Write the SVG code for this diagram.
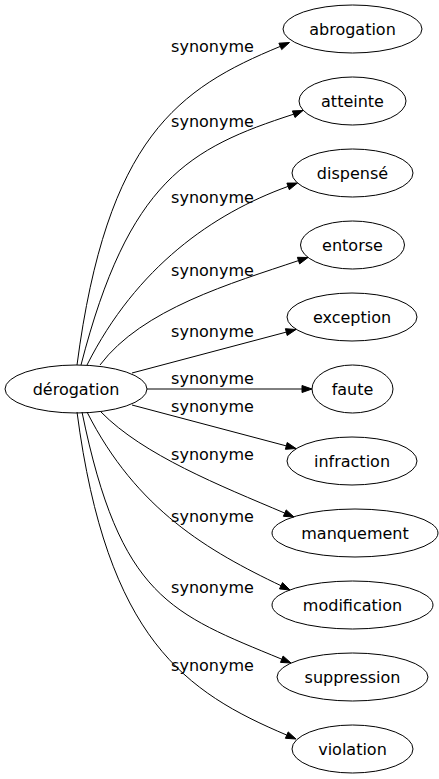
<svg xmlns="http://www.w3.org/2000/svg" width="439" height="779" viewBox="0 0 439 779">
<style>
.n ellipse{fill:none;stroke:#000;stroke-width:1}
text{font-family:"DejaVu Sans",sans-serif;font-size:16px;fill:#000}
.n text{text-anchor:middle}
.e path{fill:none;stroke:#000;stroke-width:1}
.e polygon{fill:#000;stroke:#000;stroke-width:1}
.e text{text-anchor:middle}
</style>
<rect width="439" height="779" fill="#fff"/>
<g id="edges" class="e">
<path d="M77,365 C106.9,137.3 178.3,88.4 280.3,46.4"/><polygon points="289.5,42.5 281.7,49.6 278.9,43.2"/><text x="212.5" y="52">synonyme</text>
<path d="M81,365 C128.5,180.7 189,148 293.7,114.2"/><polygon points="303,110.5 295,117.5 292.4,110.9"/><text x="212.5" y="127">synonyme</text>
<path d="M87,365 C136.5,267 212.8,213.6 288.1,186.4"/><polygon points="297.5,183 289.3,189.7 286.9,183.1"/><text x="212.5" y="203">synonyme</text>
<path d="M100,365 C142,309 232,283 298.5,260.6"/><polygon points="308,257.5 299.6,263.9 297.4,257.3"/><text x="212.5" y="276">synonyme</text>
<path d="M132,373 L286.3,332.1"/><polygon points="296,329.5 287.2,335.5 285.4,328.7"/><text x="212.5" y="337">synonyme</text>
<path d="M147,389 L302,389"/><polygon points="312,389 302,392.5 302,385.5"/><text x="212.5" y="384">synonyme</text>
<path d="M132,405 L286.3,445.9"/><polygon points="296,448.5 285.4,449.3 287.2,442.5"/><text x="212.5" y="412">synonyme</text>
<path d="M101,412 C143,455 220.4,485.8 284.8,513.1"/><polygon points="294,517 283.4,516.3 286.2,509.9"/><text x="212.5" y="460">synonyme</text>
<path d="M87,412 C136.5,510 209,551.3 281,585.7"/><polygon points="290,590 279.5,588.9 282.5,582.6"/><text x="212.5" y="522">synonyme</text>
<path d="M82,412 C120,598 171.4,613.6 281.8,659.2"/><polygon points="291,663 280.5,662.4 283.1,656"/><text x="212.5" y="593">synonyme</text>
<path d="M77,412 C106.9,639.7 185.6,692.2 286.8,735.1"/><polygon points="296,739 285.4,738.3 288.2,731.9"/><text x="212.5" y="671">synonyme</text>
</g>
<g id="derogation" class="n"><ellipse cx="76" cy="389" rx="71" ry="24"/><text x="76" y="394.5">dérogation</text></g>
<g id="abrogation" class="n"><ellipse cx="352.5" cy="29" rx="69.5" ry="24"/><text x="352.5" y="34.5">abrogation</text></g>
<g id="atteinte" class="n"><ellipse cx="352.5" cy="101" rx="53.5" ry="24"/><text x="352.5" y="106.5">atteinte</text></g>
<g id="dispense" class="n"><ellipse cx="352.5" cy="173" rx="60.5" ry="24"/><text x="352.5" y="178.5">dispensé</text></g>
<g id="entorse" class="n"><ellipse cx="352.5" cy="245" rx="52" ry="24"/><text x="352.5" y="250.5">entorse</text></g>
<g id="exception" class="n"><ellipse cx="352" cy="317" rx="65" ry="24"/><text x="352" y="322.5">exception</text></g>
<g id="faute" class="n"><ellipse cx="352.5" cy="389" rx="40.5" ry="24"/><text x="352.5" y="394.5">faute</text></g>
<g id="infraction" class="n"><ellipse cx="352" cy="461" rx="65" ry="24"/><text x="352" y="466.5">infraction</text></g>
<g id="manquement" class="n"><ellipse cx="355" cy="533" rx="83" ry="24"/><text x="355" y="538.5">manquement</text></g>
<g id="modification" class="n"><ellipse cx="352.5" cy="605" rx="80.5" ry="24"/><text x="352.5" y="610.5">modification</text></g>
<g id="suppression" class="n"><ellipse cx="352.5" cy="677" rx="75.5" ry="24"/><text x="352.5" y="682.5">suppression</text></g>
<g id="violation" class="n"><ellipse cx="352.5" cy="749" rx="60.5" ry="24"/><text x="352.5" y="754.5">violation</text></g>
</svg>
